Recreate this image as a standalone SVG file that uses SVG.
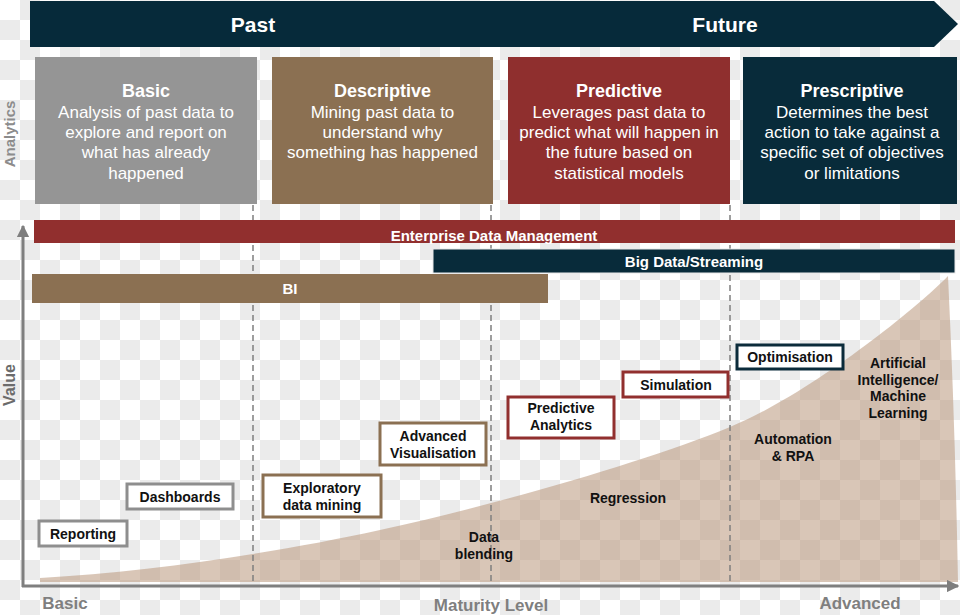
<svg xmlns="http://www.w3.org/2000/svg" width="960" height="615" viewBox="0 0 960 615">
<defs>
  <pattern id="checker" x="0" y="0" width="40" height="40" patternUnits="userSpaceOnUse">
    <rect width="40" height="40" fill="#ffffff"/>
    <rect x="20" y="0" width="20" height="20" fill="#ebebeb"/>
    <rect x="0" y="20" width="20" height="20" fill="#ebebeb"/>
  </pattern>
  <marker id="arrow" viewBox="0 0 10 10" refX="9" refY="5" markerWidth="4.2" markerHeight="4.2" orient="auto" markerUnits="strokeWidth">
    <path d="M0,0 L10,5 L0,10 Z" fill="#7f7f7f"/>
  </marker>
</defs>
<style>
  text { font-family: "Liberation Sans", Arial, sans-serif; }
  .hdr { font-size: 21px; font-weight: bold; fill: #ffffff; text-anchor: middle; }
  .ttl { font-size: 18px; font-weight: bold; fill: #ffffff; text-anchor: middle; }
  .dsc { font-size: 17px; fill: #ffffff; text-anchor: middle; }
  .bar { font-size: 15px; font-weight: bold; fill: #ffffff; text-anchor: middle; }
  .lbl { font-size: 14px; font-weight: bold; fill: #111111; text-anchor: middle; }
  .axl { font-size: 17px; font-weight: bold; fill: #7f7f7f; text-anchor: middle; }
  .side { font-size: 15px; font-weight: bold; fill: #8c8c8c; text-anchor: middle; }
  .tag { fill: #ffffff; stroke-width: 3; }
  .dash { stroke: #7f7f7f; stroke-width: 1.5; stroke-dasharray: 6 4; fill: none; }
  .axis { stroke: #7f7f7f; stroke-width: 3; fill: none; }
</style>
<rect width="960" height="615" fill="url(#checker)"/>

<g id="value-area">
  <path d="M40,578 C150,572 280,552 380,530 C500,504 650,460 730,427 C810,394 915,310 948,276 Q955,420 958,582 L40,582 Z" fill="#b9977b" fill-opacity="0.55"/>
</g>

<g id="dividers">
  <line class="dash" x1="253" y1="205" x2="253" y2="585"/>
  <line class="dash" x1="491" y1="205" x2="491" y2="585"/>
  <line class="dash" x1="730" y1="205" x2="730" y2="585"/>
</g>

<g id="timeline">
  <path d="M30,1 H934 L958,24 L934,47 H30 Z" fill="#062a3a"/>
  <text class="hdr" x="253" y="32">Past</text>
  <text class="hdr" x="725" y="32">Future</text>
</g>

<g id="basic">
  <rect x="35" y="57" width="222" height="147" fill="#959595"/>
  <text class="ttl" x="146" y="97">Basic</text>
  <text class="dsc" x="146" y="118">Analysis of past data to</text>
  <text class="dsc" x="146" y="138">explore and report on</text>
  <text class="dsc" x="146" y="158">what has already</text>
  <text class="dsc" x="146" y="179">happened</text>
</g>
<g id="descriptive">
  <rect x="272" y="57" width="221" height="147" fill="#8b7052"/>
  <text class="ttl" x="382.5" y="97">Descriptive</text>
  <text class="dsc" x="382.5" y="118">Mining past data to</text>
  <text class="dsc" x="382.5" y="138">understand why</text>
  <text class="dsc" x="382.5" y="158">something has happened</text>
</g>
<g id="predictive">
  <rect x="508" y="57" width="222" height="147" fill="#8f2f2e"/>
  <text class="ttl" x="619" y="97">Predictive</text>
  <text class="dsc" x="619" y="118">Leverages past data to</text>
  <text class="dsc" x="619" y="138">predict what will happen in</text>
  <text class="dsc" x="619" y="158">the future based on</text>
  <text class="dsc" x="619" y="179">statistical models</text>
</g>
<g id="prescriptive">
  <rect x="743" y="57" width="214" height="147" fill="#082b3a"/>
  <text class="ttl" x="852" y="97">Prescriptive</text>
  <text class="dsc" x="852" y="118">Determines the best</text>
  <text class="dsc" x="852" y="138">action to take against a</text>
  <text class="dsc" x="852" y="158">specific set of objectives</text>
  <text class="dsc" x="852" y="179">or limitations</text>
</g>

<g id="enterprise-data-management">
  <rect x="34" y="220" width="921" height="23" fill="#912f2e"/>
  <text class="bar" x="494" y="241">Enterprise Data Management</text>
</g>
<g id="big-data-streaming">
  <rect x="433" y="249" width="522" height="24" fill="#082b3a" stroke="#e8e8e8" stroke-width="1"/>
  <text class="bar" x="694" y="267">Big Data/Streaming</text>
</g>
<g id="bi">
  <rect x="32" y="274" width="516" height="29" fill="#8b7052"/>
  <text class="bar" x="290" y="294">BI</text>
</g>

<g id="connectors">
  <line class="axis" x1="23" y1="587" x2="23" y2="226" marker-end="url(#arrow)"/>
  <line class="axis" x1="22" y1="586" x2="958" y2="586" marker-end="url(#arrow)"/>
</g>

<g id="reporting">
  <rect class="tag" x="39" y="521" width="88" height="25" stroke="#8e8e8e"/>
  <text class="lbl" x="83" y="539">Reporting</text>
</g>
<g id="dashboards">
  <rect class="tag" x="127" y="484" width="106" height="25" stroke="#8e8e8e"/>
  <text class="lbl" x="180" y="502">Dashboards</text>
</g>
<g id="exploratory-data-mining">
  <rect class="tag" x="263" y="475" width="118" height="42" stroke="#8b7052"/>
  <text class="lbl" x="322" y="493">Exploratory</text>
  <text class="lbl" x="322" y="510">data mining</text>
</g>
<g id="advanced-visualisation">
  <rect class="tag" x="380" y="423" width="106" height="42" stroke="#8b7052"/>
  <text class="lbl" x="433" y="441">Advanced</text>
  <text class="lbl" x="433" y="458">Visualisation</text>
</g>
<g id="predictive-analytics">
  <rect class="tag" x="508" y="397" width="106" height="41" stroke="#912f2e"/>
  <text class="lbl" x="561" y="413">Predictive</text>
  <text class="lbl" x="561" y="430">Analytics</text>
</g>
<g id="simulation">
  <rect class="tag" x="623" y="372" width="105" height="25" stroke="#912f2e"/>
  <text class="lbl" x="676" y="390">Simulation</text>
</g>
<g id="optimisation">
  <rect class="tag" x="737" y="345" width="106" height="24" stroke="#0b2b3a"/>
  <text class="lbl" x="790" y="362">Optimisation</text>
</g>
<g id="ai-ml">
  <text class="lbl" x="898" y="368">Artificial</text>
  <text class="lbl" x="898" y="385">Intelligence/</text>
  <text class="lbl" x="898" y="401">Machine</text>
  <text class="lbl" x="898" y="418">Learning</text>
</g>
<g id="automation-rpa">
  <text class="lbl" x="793" y="444">Automation</text>
  <text class="lbl" x="793" y="461">&amp; RPA</text>
</g>
<g id="regression">
  <text class="lbl" x="628" y="503">Regression</text>
</g>
<g id="data-blending">
  <text class="lbl" x="484" y="542">Data</text>
  <text class="lbl" x="484" y="559">blending</text>
</g>

<g id="axis-labels">
  <text class="side" transform="translate(14.5,134) rotate(-90)">Analytics</text>
  <text class="side" transform="translate(14.5,385) rotate(-90)" style="fill:#6b6b6b;font-size:16px">Value</text>
  <text class="axl" x="65" y="609">Basic</text>
  <text class="axl" x="491" y="611">Maturity Level</text>
  <text class="axl" x="860" y="609">Advanced</text>
</g>
</svg>
